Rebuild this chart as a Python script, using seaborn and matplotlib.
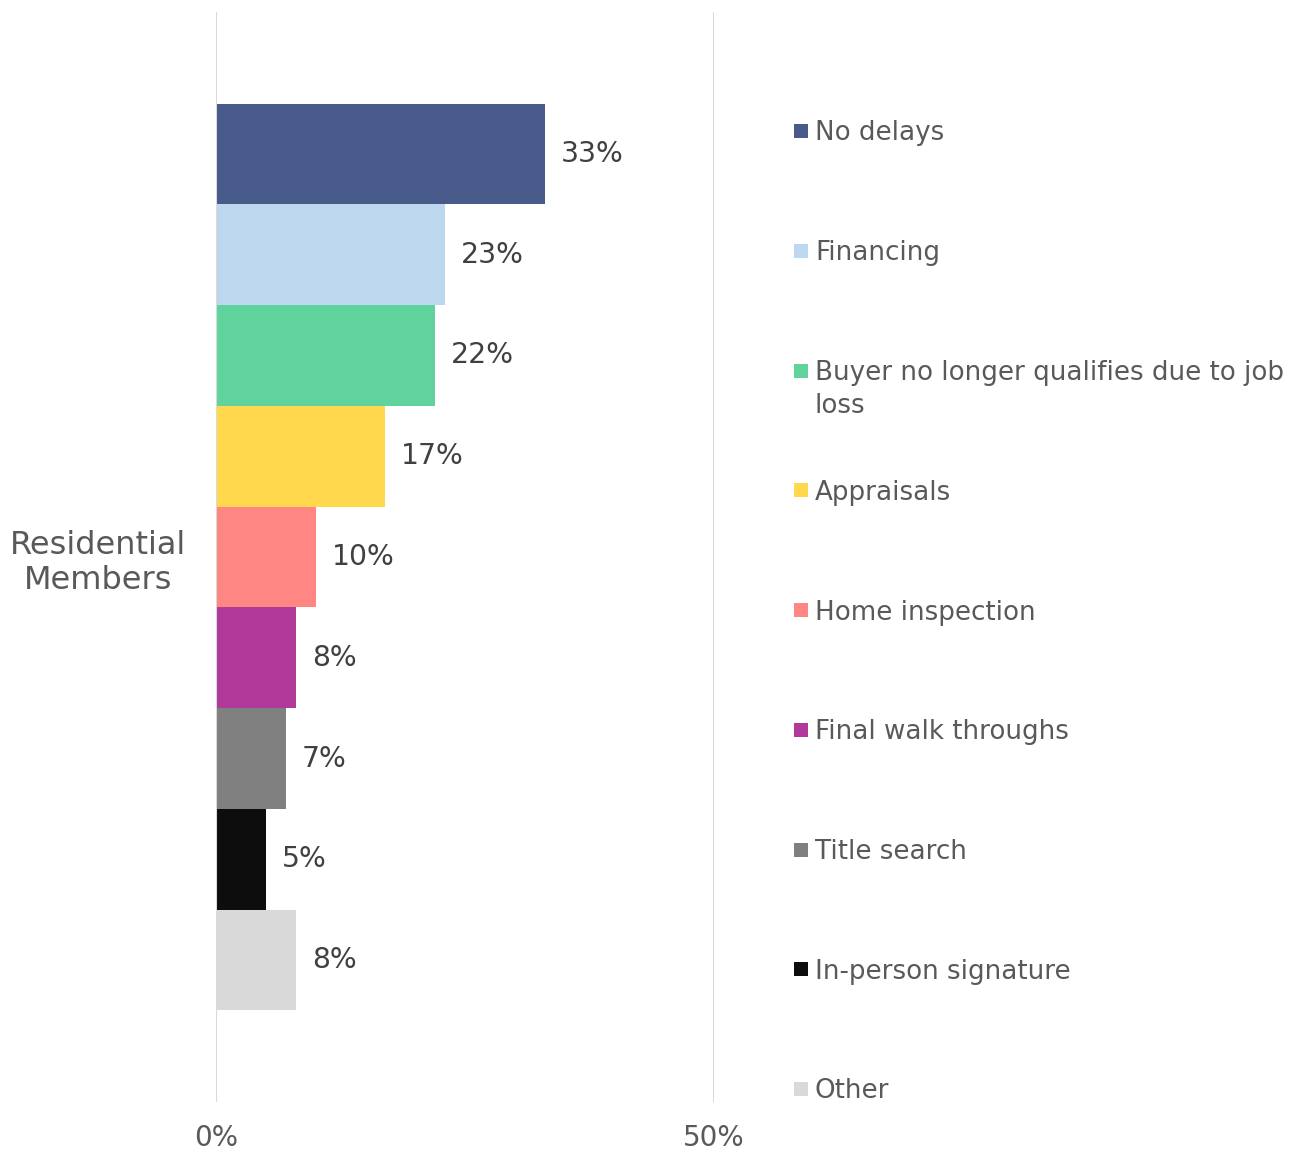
import matplotlib
matplotlib.use("Agg")
import matplotlib.pyplot as plt
from matplotlib.patches import Rectangle
import seaborn as sns
import pandas as pd

# Survey data: causes of closing delays, residential members
group = "Residential\nMembers"
reasons = [
    "No delays",
    "Financing",
    "Buyer no longer qualifies due to job\nloss",
    "Appraisals",
    "Home inspection",
    "Final walk throughs",
    "Title search",
    "In-person signature",
    "Other",
]
values = [33, 23, 22, 17, 10, 8, 7, 5, 8]
colors = ["#485A8A", "#BDD7EE", "#60D39C", "#FFD84D", "#FF8683",
          "#B0399A", "#808080", "#0D0D0D", "#D9D9D9"]
x_ticks = [0, 50]
x_tick_labels = ["0%", "50%"]

df = pd.DataFrame({"group": [group] * len(reasons), "reason": reasons, "value": values})

sns.set_theme(style="white")
plt.rcParams["font.family"] = ["DejaVu Sans"]

W, H, DPI = 1306, 1155, 100
fig = plt.figure(figsize=(W / DPI, H / DPI), dpi=DPI)
ax = fig.add_axes([216 / W, 1 - 1102 / H, (714 - 216) / W, (1102 - 12) / H])

sns.barplot(data=df, x="value", y="group", hue="reason", hue_order=reasons,
            palette=colors, orient="h", width=0.832, saturation=1,
            linewidth=0, legend=False, ax=ax)

# Value labels at the end of each bar
for cont, v in zip(ax.containers, values):
    ax.bar_label(cont, labels=[f"{v}%"], padding=11.5, fontsize=20.3,
                 color="#404040")

ax.set_xlim(0, 50)
ax.set_xticks(x_ticks)
ax.set_xticklabels(x_tick_labels)
ax.set_xlabel("")
ax.set_ylabel("")
for s in ax.spines.values():
    s.set_visible(False)
ax.grid(axis="x", color="#D9D9D9", linewidth=1.5)
ax.grid(axis="y", visible=False)
ax.set_axisbelow(False)
ax.tick_params(axis="x", length=0, pad=16, labelsize=20, labelcolor="#595959")
ax.tick_params(axis="y", length=0, pad=21.5, labelsize=23, labelcolor="#595959")
for lab in ax.get_yticklabels():
    lab.set_multialignment("center")

# Legend on the right: one evenly spaced slot per category
leg_top = 131
leg_step = 119.75
line_h = 33
box = 14
for i, (r, c) in enumerate(zip(reasons, colors)):
    yc = leg_top + i * leg_step
    fig.patches.append(Rectangle((794 / W, 1 - (yc + box / 2) / H), box / W, box / H,
                                 transform=fig.transFigure, facecolor=c,
                                 edgecolor="none"))
    for j, line in enumerate(r.split("\n")):
        fig.text(815 / W, 1 - (yc + 9.5 + j * line_h) / H, line, fontsize=18.8,
                 color="#595959", ha="left", va="baseline")

fig.savefig("out.png", dpi=DPI, facecolor="white")
